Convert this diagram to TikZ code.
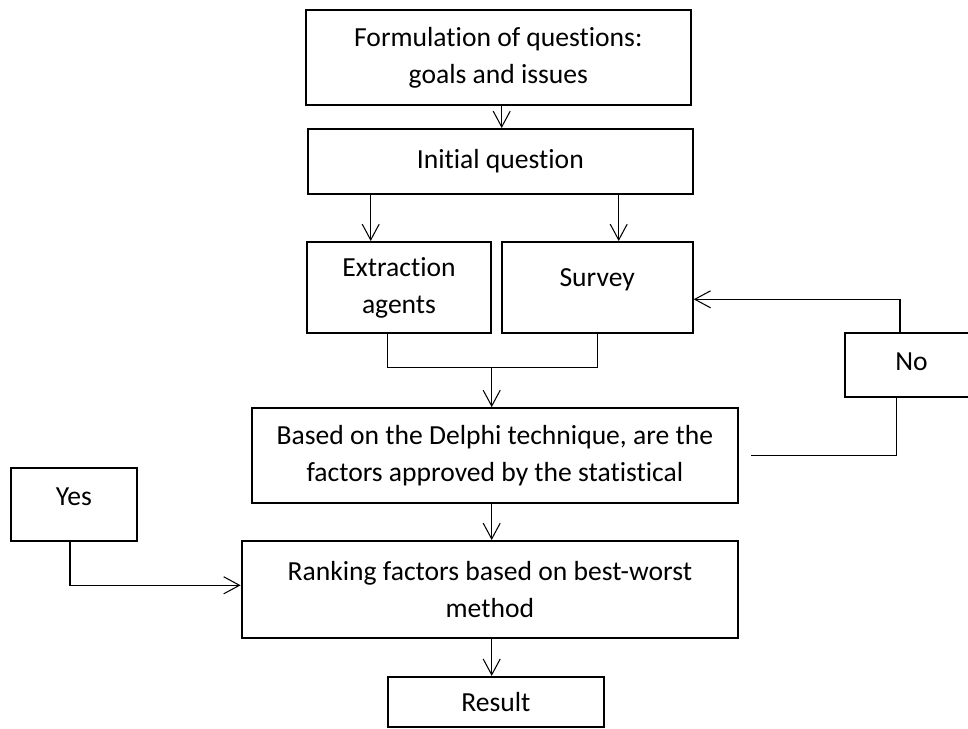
\documentclass[tikz,border=0pt]{standalone}
\usepackage{fontspec}
\setmainfont{Carlito}[Ligatures={NoCommon,NoDiscretionary,NoContextual}]
\usetikzlibrary{arrows.meta}

\tikzset{
    box/.style={draw, line width=1.1pt, align=center, inner sep=0pt,
        font=\fontsize{15.7}{21}\selectfont},
    link/.style={line width=0.6pt},
    >={Straight Barb[length=9pt,width=9.7pt,line width=0.6pt]}
}

\begin{document}
\begin{tikzpicture}
    \useasboundingbox (0,0) rectangle (19.36,-14.58);

    % Boxes
    \node[box, minimum width=7.69cm, minimum height=1.9cm] (form) at (9.967,-1.15) {Formulation of questions:\\goals and issues};
    \node[box, minimum width=7.69cm, minimum height=1.3cm] (init) at (10.007,-3.23) {Initial question};
    \node[box, minimum width=3.68cm, minimum height=1.82cm] (extr) at (7.98,-5.75) {Extraction\\agents};
    \node[box, minimum width=3.82cm, minimum height=1.82cm, text depth=11.4pt] (surv) at (11.944,-5.75) {Survey};
    \node[box, minimum width=9.73cm, minimum height=1.89cm] (delphi) at (9.897,-9.107) {Based on the Delphi technique, are the\\factors approved by the statistical};
    \node[box, minimum width=9.93cm, minimum height=1.94cm] (rank) at (9.797,-11.79) {Ranking factors based on best-worst\\method};
    \node[box, minimum width=4.33cm, minimum height=1.0cm] (result) at (9.917,-14.037) {Result};
    \node[box, minimum width=2.51cm, minimum height=1.46cm, text depth=8.6pt] (yes) at (1.477,-10.084) {Yes};
    \node[box, minimum width=2.66cm, minimum height=1.28cm, text depth=3.4pt] (no) at (18.23,-7.294) {No};

    % Helper points
    \coordinate (fx) at (10.034,0);
    \coordinate (lx) at (7.414,0);
    \coordinate (rx) at (12.374,0);
    \coordinate (mx) at (7.754,0);
    \coordinate (cx) at (9.834,0);
    \coordinate (join) at (9.834,-7.354);
    \coordinate (nup) at (18.0,-5.986);
    \coordinate (ndown) at (17.934,-9.114);
    \coordinate (nend) at (15.02,-9.114);
    \coordinate (ybend) at (1.4,-11.706);

    % Arrows
    \draw[link,->] (form.south -| fx) -- (init.north -| fx);
    \draw[link,->] (init.south -| lx) -- (extr.north -| lx);
    \draw[link,->] (init.south -| rx) -- (surv.north -| rx);
    \draw[link] (extr.south -| mx) |- (join) -| (surv.south);
    \draw[link,->] (join) -- (delphi.north -| cx);
    \draw[link,->] (delphi.south -| cx) -- (rank.north -| cx);
    \draw[link,->] (rank.south -| cx) -- (result.north -| cx);

    % Loop back from No
    \draw[link,->] (no.north -| nup) -- (nup) -- (surv.east |- nup);
    \draw[link] (no.south -| ndown) -- (ndown) -- (nend);

    % Yes to ranking
    \draw[link,->] (yes.south -| ybend) -- (ybend) -- (rank.west |- ybend);

\end{tikzpicture}
\end{document}
